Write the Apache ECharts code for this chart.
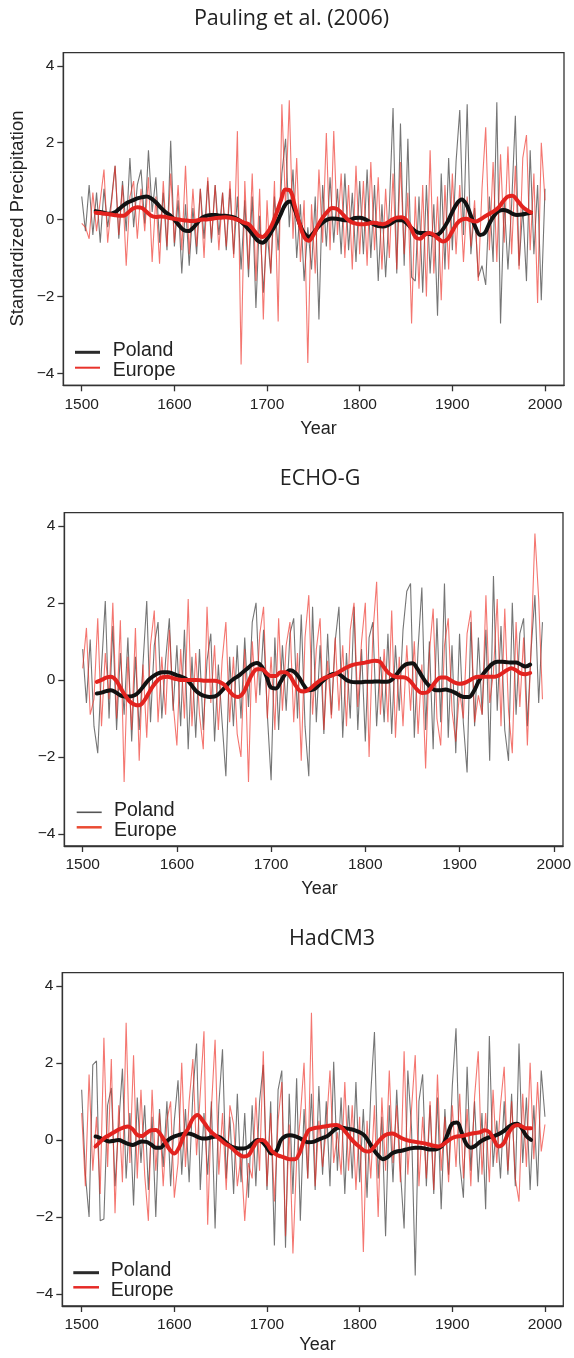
<!DOCTYPE html>
<html><head><meta charset="utf-8">
<script src="https://cdn.jsdelivr.net/npm/echarts@6/dist/echarts.min.js"></script>
<style>html,body{margin:0;padding:0;background:#fff}#c{width:574px;height:1358px}</style>
</head><body><div id="c"></div>
<script>
// ---------- DATA ----------
const xTicks = [1500, 1600, 1700, 1800, 1900, 2000];
const yTicks = [-4, -2, 0, 2, 4];
const panelTitles = ['Pauling et al. (2006)', 'ECHO-G', 'HadCM3'];
const seriesNames = ['Poland', 'Europe'];
const yAxisName = 'Standardized Precipitation';
const xAxisName = 'Year';
const rawStart = 1500, rawStep = 4;      // raw values every 4 years
const smoothStart = 1515, smoothStep = 5; // smoothed values every 5 years

// Pauling et al. (2006)
const paulingPoland = [
 0.6,-0.3,0.9,-0.4,0.7,-0.6,0.8,-0.2,0.5,1.4,
 -0.5,1.0,-0.3,1.6,-0.2,0.9,1.3,-0.1,1.8,0.2,
 1.1,-0.6,0.7,-0.8,2.05,-0.7,0.5,-1.4,0.4,-1.2,
 0.3,-0.9,0.8,-0.5,1.0,-0.6,0.9,-0.4,0.7,-0.8,
 0.8,-0.9,0.6,-1.3,0.5,-1.5,0.6,-2.3,0.1,-1.9,
 -0.3,-1.4,0.6,-0.8,1.2,2.1,-0.2,1.3,-1.0,0.4,
 -1.6,-0.2,-1.3,0.6,-2.6,0.9,-0.7,1.1,-0.6,0.8,
 -0.9,1.2,-0.8,0.7,-1.1,1.0,-0.9,1.3,-1.0,0.9,
 -1.6,0.4,-1.5,0.3,2.9,-1.4,2.5,-1.2,2.1,-1.5,
 -1.6,0.6,-1.9,0.9,-1.4,0.4,-2.5,1.2,-1.3,1.6,
 -0.8,1.5,2.85,-0.4,3.0,-0.9,0.3,-1.5,-1.2,-1.7,
 0.6,-1.1,3.05,-2.7,0.5,-1.3,0.4,2.7,-1.2,0.3,
 -1.6,1.8,-0.9,0.9,-2.1,0.8];
const paulingEurope = [
 -0.1,-0.2,-0.5,0.7,-0.3,0.5,1.3,-0.6,0.4,1.4,
 -0.4,0.9,-1.2,0.6,1.0,-0.5,0.8,-0.3,1.1,-1.1,
 0.6,-1.15,1.0,-0.7,1.2,-0.6,0.9,-0.8,1.4,-0.9,
 0.8,-0.7,0.8,-1.0,1.1,-0.5,0.9,-0.8,0.7,-0.7,
 1.0,-1.0,2.3,-3.77,1.0,-1.3,1.2,-1.6,0.8,-2.6,
 0.5,-1.4,1.0,-2.65,3.0,0.3,3.1,-0.5,1.6,-1.1,
 0.5,-3.73,0.4,-1.4,1.3,-0.6,2.25,-0.8,2.3,-0.4,
 1.2,-1.0,0.9,-1.3,1.4,-0.9,1.0,-1.2,1.5,-0.8,
 1.1,-1.3,0.8,-1.0,1.2,-1.3,1.5,-0.9,0.7,-2.7,
 0.6,-1.8,0.9,-2.0,1.8,-1.4,0.6,-2.1,0.9,-1.3,
 1.2,-0.9,0.9,-1.1,0.6,-0.7,0.5,-1.6,0.8,2.4,
 -0.8,1.5,-1.1,1.7,-0.6,1.9,-0.9,1.4,-1.3,1.6,
 2.2,-0.8,1.2,-2.17,2.0,0.5];
const paulingPolandSmooth = [
 0.22,0.2,0.17,0.15,0.18,0.27,0.37,0.45,0.5,0.55,0.58,0.6,0.55,0.45,0.32,0.2,0.12,0.0,-0.15,-0.27,
 -0.3,-0.22,-0.08,0.05,0.1,0.12,0.12,0.1,0.1,0.08,0.05,-0.02,-0.12,-0.25,-0.4,-0.55,-0.6,-0.5,-0.3,-0.1,
 0.15,0.4,0.47,0.25,-0.1,-0.35,-0.45,-0.35,-0.2,-0.08,0.0,0.03,0.02,0.0,-0.02,0.0,0.04,0.05,0.02,-0.05,
 -0.12,-0.17,-0.18,-0.15,-0.08,-0.02,-0.02,-0.08,-0.2,-0.3,-0.35,-0.35,-0.37,-0.4,-0.38,-0.25,-0.05,0.2,0.42,0.52,
 0.4,0.1,-0.2,-0.4,-0.35,-0.1,0.1,0.22,0.25,0.22,0.15,0.12,0.13,0.16,0.18];
const paulingEuropeSmooth = [
 0.18,0.17,0.15,0.14,0.12,0.1,0.1,0.18,0.28,0.32,0.3,0.2,0.1,0.07,0.08,0.07,0.04,0.02,0.0,-0.02,
 -0.03,-0.04,-0.02,0.0,0.0,0.02,0.04,0.05,0.06,0.05,0.02,-0.02,-0.08,-0.12,-0.25,-0.4,-0.45,-0.35,-0.15,0.15,
 0.5,0.78,0.75,0.35,-0.1,-0.45,-0.55,-0.4,-0.15,0.05,0.2,0.3,0.28,0.18,0.05,-0.05,-0.1,-0.12,-0.12,-0.1,
 -0.08,-0.1,-0.12,-0.08,0.0,0.05,0.06,0.0,-0.2,-0.45,-0.5,-0.4,-0.35,-0.4,-0.5,-0.57,-0.5,-0.3,-0.1,0.0,
 0.02,-0.02,-0.05,0.0,0.08,0.15,0.22,0.32,0.48,0.6,0.62,0.5,0.35,0.25,0.18];

// ECHO-G (raw ends 1988, smooth ends 1975)
const echoPoland = [
 0.8,-0.6,1.05,-1.2,-1.9,0.3,2.05,-1.0,1.4,-1.3,
 0.7,-0.9,1.1,-1.6,0.6,-1.3,0.4,2.05,-1.1,0.9,
 1.5,-1.0,0.5,1.6,-0.8,0.9,-1.2,1.3,-1.8,0.6,
 -1.5,0.8,-1.3,0.5,1.2,-1.6,0.4,-1.1,-2.5,0.6,
 -1.2,0.9,-1.0,1.1,-0.7,1.5,2.0,-0.4,1.3,-0.9,
 -2.6,1.1,-1.3,0.9,-0.8,1.2,1.6,-1.0,1.7,-1.2,
 -2.5,1.9,-1.1,0.9,-1.4,1.2,-0.9,1.0,1.9,-1.5,
 0.7,-1.0,1.9,-1.3,0.8,-1.6,1.1,1.5,-1.2,0.6,
 -1.1,1.2,-1.4,0.9,-0.8,1.3,2.3,2.5,-1.5,0.8,
 2.4,-1.3,1.0,-1.8,1.6,-1.1,2.5,-1.5,0.9,-1.9,
 1.2,-1.1,-2.4,1.5,-1.2,1.1,-0.9,1.3,-2.1,2.7,
 -0.8,1.4,-1.3,-2.1,2.0,-0.9,1.2,1.6,-1.2,0.8,
 2.2,-0.6,1.5];
const echoEurope = [
 0.3,1.35,-0.9,-0.5,1.6,-1.2,0.7,-0.5,2.0,-1.0,
 1.55,-2.65,0.6,-1.3,1.35,-2.1,0.4,-1.5,0.9,1.8,
 -1.1,0.6,-0.9,1.3,-0.6,-1.7,0.8,-1.0,2.1,-1.2,
 0.7,-0.9,-1.8,1.9,-0.6,0.9,-1.3,0.5,1.5,-1.1,
 0.6,-1.4,-2.0,0.8,-2.65,1.0,-0.6,1.2,1.9,-1.0,
 0.6,-1.3,1.6,-0.8,0.9,1.5,-1.1,0.7,-2.1,1.1,
 2.2,-0.9,0.8,1.6,-1.3,0.5,-1.0,1.1,-0.8,0.9,
 -1.2,1.3,2.0,-0.7,1.0,2.0,-2.0,1.2,2.55,-0.9,
 0.8,-1.1,1.8,-1.5,0.6,-1.2,0.9,-0.8,1.0,-1.4,
 0.4,-2.3,0.7,1.85,-1.0,-1.7,0.9,1.6,-0.8,-1.6,
 -0.3,-1.0,1.2,1.8,-1.1,-0.4,-0.9,2.2,-0.6,0.2,
 2.1,-1.2,1.85,-0.8,-1.9,1.5,-0.7,1.1,-1.7,0.9,
 3.8,2.1,-0.5];
const echoPolandSmooth = [
 -0.35,-0.33,-0.29,-0.27,-0.32,-0.4,-0.43,-0.43,-0.4,-0.3,-0.15,0.0,0.1,0.17,0.2,0.2,0.17,0.12,0.08,0.02,
 -0.12,-0.28,-0.37,-0.42,-0.44,-0.43,-0.35,-0.22,-0.08,0.02,0.1,0.2,0.3,0.4,0.44,0.35,0.1,-0.2,-0.22,-0.05,
 0.15,0.25,0.2,0.05,-0.15,-0.27,-0.25,-0.15,-0.02,0.08,0.15,0.17,0.1,0.0,-0.05,-0.06,-0.06,-0.05,-0.05,-0.04,
 -0.04,-0.05,-0.04,0.05,0.2,0.35,0.42,0.43,0.3,0.1,-0.08,-0.2,-0.27,-0.27,-0.25,-0.28,-0.33,-0.4,-0.44,-0.44,
 -0.3,-0.05,0.15,0.3,0.42,0.47,0.47,0.46,0.45,0.45,0.4,0.35,0.4];
const echoEuropeSmooth = [
 -0.05,0.0,0.06,0.08,0.0,-0.2,-0.4,-0.56,-0.64,-0.66,-0.55,-0.35,-0.15,0.0,0.07,0.08,0.05,0.02,0.0,0.0,
 0.0,0.0,-0.01,-0.02,-0.02,-0.02,-0.05,-0.12,-0.27,-0.4,-0.44,-0.35,-0.1,0.15,0.28,0.28,0.18,0.1,0.1,0.2,
 0.2,0.1,-0.1,-0.27,-0.3,-0.25,-0.15,-0.05,0.03,0.08,0.12,0.18,0.25,0.32,0.38,0.41,0.43,0.45,0.48,0.5,
 0.48,0.32,0.17,0.1,0.07,0.07,0.03,-0.1,-0.25,-0.34,-0.33,-0.2,-0.03,0.06,0.06,0.0,-0.07,-0.1,-0.08,-0.02,
 0.05,0.08,0.08,0.08,0.08,0.1,0.17,0.25,0.3,0.25,0.17,0.15,0.18];

// HadCM3
const hadPoland = [
 1.3,-0.9,-2.0,1.95,2.05,-2.1,-2.05,0.9,1.35,-1.2,
 0.4,1.85,-1.0,0.7,-1.7,1.1,-0.6,0.9,-1.3,0.6,
 -2.0,0.8,-0.7,1.0,-1.2,0.5,1.55,-0.9,0.8,-1.1,
 1.2,2.5,-1.3,0.7,-0.9,1.0,-2.3,0.9,2.35,-1.0,
 0.6,-1.4,1.2,-1.1,0.7,-1.5,0.9,-1.2,1.0,1.95,
 -1.3,1.0,-2.74,1.3,1.8,-2.8,1.2,-1.4,1.6,-2.1,
 0.8,-1.0,1.2,-1.3,1.4,-0.9,1.0,-1.2,2.03,-0.8,
 1.1,-1.4,0.9,-1.0,1.5,-1.1,0.8,-1.5,1.2,2.8,
 -1.0,0.6,-2.5,0.9,-1.1,1.3,-0.8,-2.3,1.8,0.3,
 -3.52,1.0,1.7,-1.2,0.9,-1.4,1.1,-1.8,0.8,-0.9,
 1.4,2.9,-0.6,-1.5,1.9,-0.8,1.0,-1.1,0.7,-1.8,
 2.7,-0.7,0.5,-1.0,1.0,-0.9,1.2,-1.2,2.5,-0.6,
 1.1,-1.3,0.9,-1.2,1.8,0.6];
const hadEurope = [
 0.7,-1.2,1.7,-0.8,0.6,-1.4,2.65,-0.7,2.1,-1.9,
 0.9,-1.1,3.04,-0.6,2.2,-1.0,1.3,-0.9,-2.1,1.3,
 -0.8,0.7,-1.2,0.5,1.0,-1.5,-0.6,2.0,-0.7,1.0,
 2.1,-0.4,1.2,2.82,-2.2,0.8,2.6,-0.9,0.7,-1.3,
 0.9,0.4,-1.2,-0.4,-2.1,-0.6,-1.0,1.1,-0.8,2.3,
 -1.2,0.7,-1.6,0.5,1.5,-2.5,0.4,-2.95,-0.5,0.6,
 2.0,-1.0,3.3,-1.2,0.5,-0.7,0.3,1.8,-0.6,0.2,
 -0.9,1.5,-0.8,0.9,-1.3,0.6,-2.91,0.5,-1.0,0.9,
 -2.0,1.1,-0.8,1.8,-0.6,0.9,-1.1,2.3,-0.9,0.8,
 2.2,-1.2,0.6,-1.0,1.0,-1.3,1.7,-0.8,0.6,-1.1,
 0.9,-0.7,1.2,-1.0,0.8,-1.2,1.1,2.3,-0.9,0.7,
 -1.1,1.3,-0.6,0.9,1.9,-0.8,1.0,-1.0,-1.6,1.2,
 -0.7,2.0,-0.5,1.5,-0.3,0.4];
const hadPolandSmooth = [
 0.09,0.05,0.0,-0.04,-0.02,0.0,-0.05,-0.1,-0.13,-0.08,-0.04,-0.05,-0.12,-0.2,-0.2,-0.08,0.03,0.09,0.13,0.16,
 0.17,0.14,0.08,0.04,0.04,0.07,0.09,0.06,-0.05,-0.15,-0.2,-0.22,-0.22,-0.18,-0.08,0.0,-0.05,-0.2,-0.35,-0.3,
 0.0,0.1,0.12,0.1,0.05,-0.02,-0.06,-0.05,0.0,0.05,0.1,0.2,0.3,0.32,0.3,0.28,0.25,0.2,0.12,-0.05,
 -0.25,-0.4,-0.5,-0.45,-0.35,-0.3,-0.28,-0.25,-0.22,-0.2,-0.2,-0.22,-0.25,-0.25,-0.22,-0.12,0.15,0.42,0.45,0.2,
 -0.1,-0.2,-0.15,-0.05,0.02,0.07,0.1,0.15,0.22,0.32,0.4,0.42,0.3,0.1,0.0];
const hadEuropeSmooth = [
 -0.17,-0.05,0.06,0.13,0.2,0.27,0.32,0.35,0.28,0.13,0.1,0.18,0.25,0.26,0.15,-0.05,-0.25,-0.35,-0.2,0.1,
 0.3,0.55,0.65,0.52,0.35,0.2,0.1,0.0,-0.1,-0.17,-0.28,-0.38,-0.43,-0.4,-0.2,-0.03,0.0,-0.1,-0.28,-0.38,
 -0.43,-0.47,-0.5,-0.5,-0.35,0.0,0.25,0.3,0.32,0.34,0.36,0.38,0.39,0.33,0.2,0.05,-0.08,-0.18,-0.28,-0.3,
 -0.2,-0.05,0.08,0.15,0.17,0.12,0.05,0.0,-0.03,-0.05,-0.07,-0.09,-0.12,-0.15,-0.17,-0.12,-0.03,0.05,0.09,0.1,
 0.13,0.16,0.18,0.2,0.25,0.2,0.0,-0.17,-0.1,0.15,0.33,0.39,0.35,0.3,0.3];

// ---------- LAYOUT / STYLE ----------
const panels = [
  {raw:[paulingPoland, paulingEurope], smooth:[paulingPolandSmooth, paulingEuropeSmooth],
   grid:{left:63.3, top:52.7, width:500.7, height:332.6}, xMin:1480.1, xMax:2020.5,
   title:{x:291.5, y:19}, year:{x:318.5, y:429}, yname:true,
   legend:{x1:75, x2:100, y:[352.3, 367.7], ty:[350.7, 370.7], tx:112.7,
           stroke:['#2a2a2a','#e8322b'], lw:[3, 2]}},
  {raw:[echoPoland, echoEurope], smooth:[echoPolandSmooth, echoEuropeSmooth],
   grid:{left:64.3, top:512.7, width:500.7, height:333.3}, xMin:1480.5, xMax:2009.8,
   title:{x:320, y:479}, year:{x:319.5, y:889}, yname:false,
   legend:{x1:76.7, x2:101.7, y:[812.3, 827.3], ty:[810.7, 830.7], tx:114,
           stroke:['#555','#ea4b33'], lw:[1.6, 2.5]}},
  {raw:[hadPoland, hadEurope], smooth:[hadPolandSmooth, hadEuropeSmooth],
   grid:{left:62.3, top:972.7, width:501, height:333.3}, xMin:1479.1, xMax:2019.8,
   title:{x:332, y:939}, year:{x:317.5, y:1345}, yname:false,
   legend:{x1:73.3, x2:99, y:[1272.7, 1287.3], ty:[1270.7, 1290.7], tx:110.7,
           stroke:['#2a2a2a','#e62a26'], lw:[3, 2.5]}}
];
const yMin = -4.31, yMax = 4.34;
const rawColors = ['rgba(25,25,25,0.6)', 'rgba(238,45,35,0.65)'];
const smoothColors = ['#111111', '#e3231f'];
const axisColor = '#333';
const tickFont = 'Liberation Sans';

function pairs(start, step, vals) { return vals.map((v, i) => [start + step * i, v]); }
function fmtY(v) { return v < 0 ? '\u2212' + Math.abs(v) : String(v); }
function fmtX(v) { return String(v); }

const grids = [], xAxes = [], yAxes = [], series = [], graphics = [];
panels.forEach((p, i) => {
  grids.push(Object.assign({show:true, borderColor:axisColor, borderWidth:1.3, containLabel:false}, p.grid));
  xAxes.push({type:'value', gridIndex:i, min:p.xMin, max:p.xMax,
    axisLine:{show:true, onZero:false, lineStyle:{color:axisColor, width:1.3}},
    axisTick:{show:true, customValues:xTicks, length:6, lineStyle:{color:axisColor, width:1.3}},
    axisLabel:{customValues:xTicks, margin:11, fontSize:15.5, color:'#222', fontFamily:tickFont, formatter:fmtX},
    splitLine:{show:false}});
  yAxes.push({type:'value', gridIndex:i, min:yMin, max:yMax,
    axisLine:{show:true, onZero:false, lineStyle:{color:axisColor, width:1.3}},
    axisTick:{show:true, customValues:yTicks, length:6, lineStyle:{color:axisColor, width:1.3}},
    axisLabel:{customValues:yTicks, margin:9, fontSize:15.5, color:'#222', fontFamily:tickFont, formatter:fmtY},
    splitLine:{show:false}});
  [0, 1].forEach(k => {
    series.push({type:'line', name:seriesNames[k], xAxisIndex:i, yAxisIndex:i, symbol:'none', silent:true,
      data:pairs(rawStart, rawStep, p.raw[k]), lineStyle:{color:rawColors[k], width:1.1}, z:2});
  });
  [0, 1].forEach(k => {
    series.push({type:'line', name:seriesNames[k] + ' (smoothed)', xAxisIndex:i, yAxisIndex:i, symbol:'none', silent:true,
      smooth:0.4, data:pairs(smoothStart, smoothStep, p.smooth[k]),
      lineStyle:{color:smoothColors[k], width:4, cap:'round', join:'round'}, z:3 + k});
  });
  graphics.push({type:'text', x:p.title.x, y:p.title.y,
    style:{text:panelTitles[i], fill:'#222', font:'21.5px "Open Sans"', align:'center', verticalAlign:'middle'}});
  graphics.push({type:'text', x:p.year.x, y:p.year.y,
    style:{text:xAxisName, fill:'#222', font:'18px "Liberation Sans"', align:'center', verticalAlign:'middle'}});
  [0, 1].forEach(k => {
    graphics.push({type:'line', shape:{x1:p.legend.x1, y1:p.legend.y[k], x2:p.legend.x2, y2:p.legend.y[k]},
      style:{stroke:p.legend.stroke[k], lineWidth:p.legend.lw[k]}});
    graphics.push({type:'text', x:p.legend.tx, y:p.legend.ty[k],
      style:{text:seriesNames[k], fill:'#222', font:'19.5px "Liberation Sans"', align:'left', verticalAlign:'middle'}});
  });
  if (p.yname) {
    graphics.push({type:'text', x:17.5, y:218.5, rotation:Math.PI / 2,
      style:{text:yAxisName, fill:'#222', font:'18.5px "Liberation Sans"', align:'center', verticalAlign:'middle'}});
  }
});

const chart = echarts.init(document.getElementById('c'), null, {renderer:'canvas'});
chart.setOption({animation:false, backgroundColor:'#fff', grid:grids, xAxis:xAxes, yAxis:yAxes, series:series, graphic:graphics});
</script></body></html>
